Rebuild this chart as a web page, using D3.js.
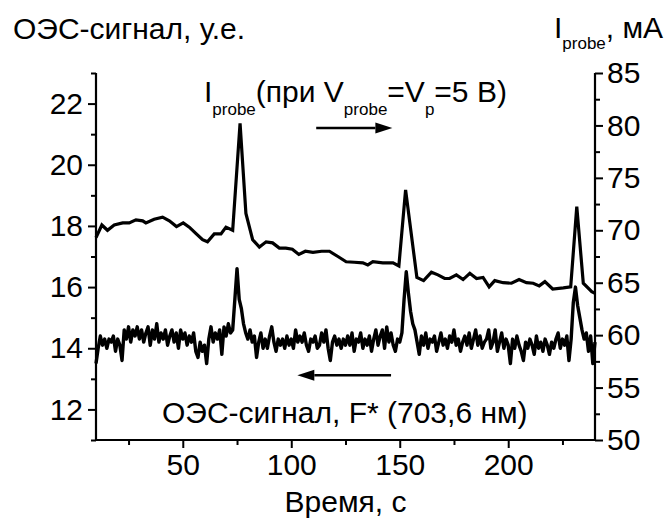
<!DOCTYPE html>
<html>
<head>
<meta charset="utf-8">
<script src="https://cdn.jsdelivr.net/npm/d3@7"></script>
<style>
  html, body { margin: 0; padding: 0; background: #fff; }
  svg { display: block; }
  text { font-family: "Liberation Sans", Arial, sans-serif; fill: #000; }
</style>
</head>
<body>
<div id="chart"></div>
<script>
// ---------- data ----------
// Upper curve: probe current I_probe, mA (right axis)
const probeTime = [10, 12.7, 15.3, 18.4, 22.3, 25.3, 28.4, 31.5, 33, 36.8, 40.7, 43.8, 47.1, 50.2, 53, 56, 59.1, 61.4, 64.5, 67.6, 69.9, 73, 76.4, 79.1, 82.2, 85.3, 88.4, 91.4, 94.5, 97.5, 100.5, 103.5, 106.5, 110, 114, 117.6, 121.5, 125.3, 129, 133, 135.3, 137.6, 142.2, 146.9, 149.6, 152.7, 157.9, 161, 164.6, 167.6, 170.7, 173, 176.1, 179.2, 182.3, 185.4, 188.4, 191.2, 193.8, 197.7, 201.5, 205, 208.4, 211.5, 214.3, 216.9, 220.5, 225.4, 228.8, 231.6, 234.6, 238.5, 240];
const probeCurrent = [69.3, 70.5, 70.0, 70.5, 70.7, 70.7, 71.0, 70.9, 70.7, 71.05, 71.25, 70.9, 70.35, 70.7, 70.3, 69.7, 69.1, 68.9, 69.65, 69.65, 70.3, 70.0, 80.2, 71.6, 69.1, 68.4, 68.9, 68.8, 68.3, 68.3, 68.2, 67.7, 68.0, 67.9, 68.0, 68.0, 67.5, 67.0, 66.95, 66.9, 66.7, 67.0, 66.9, 66.9, 66.6, 73.85, 65.5, 65.2, 66.0, 65.75, 65.4, 65.4, 65.75, 65.3, 65.9, 65.4, 65.5, 64.6, 65.2, 65.0, 64.95, 65.3, 65.0, 64.95, 64.7, 65.1, 64.4, 64.5, 64.6, 72.25, 64.95, 64.15, 64.0];

// Lower curve: OES signal F* (703.6 nm), a.u. (left axis), sampled every 1 s from t = 10 s
const oesStart = 10;
const oesStep = 1;
const oesSignal = [
  13.5,14.0,14.4,14.1,14.3,14.0,14.3,14.2,14.4,13.9,
  14.3,14.1,13.6,14.6,14.3,14.7,14.2,14.6,14.4,14.7,
  14.3,14.6,14.2,14.5,14.7,14.1,14.6,14.3,14.8,14.2,
  14.5,14.3,14.6,14.1,14.4,14.6,14.2,14.5,14.0,14.6,
  14.3,14.5,14.1,14.4,14.2,14.5,13.9,13.7,14.2,13.9,
  14.1,13.5,14.3,14.7,14.2,14.5,14.3,14.6,13.8,14.7,
  14.4,14.8,14.5,14.6,15.6,16.6,15.6,15.3,14.8,14.5,
  14.3,14.6,14.2,14.4,13.7,14.2,14.5,14.0,14.3,14.0,
  14.4,14.7,14.2,13.9,14.3,14.1,14.3,14.0,14.4,14.1,
  14.3,14.0,14.6,14.2,14.4,14.2,14.5,14.1,13.9,14.3,
  14.2,14.4,14.0,14.1,14.5,14.2,14.6,14.0,13.6,14.2,
  14.4,14.1,14.3,14.0,14.3,14.1,14.4,14.1,14.5,13.9,
  14.3,14.2,14.5,14.0,14.3,14.1,14.4,13.9,14.3,14.6,
  14.1,14.4,14.6,14.0,14.7,14.2,14.5,14.1,13.9,14.3,
  14.2,14.5,15.6,16.5,15.8,15.2,14.8,14.6,14.2,13.8,
  14.4,14.1,14.5,14.0,14.3,14.2,14.4,13.9,14.2,14.5,
  14.1,14.3,14.0,14.4,14.2,14.6,14.1,14.3,13.9,14.2,
  14.4,14.1,14.5,14.0,14.3,14.6,14.1,14.4,14.0,14.2,
  14.3,14.6,14.0,14.2,14.6,13.9,14.2,14.5,14.0,14.3,
  14.1,13.5,14.3,14.0,14.4,14.1,13.9,13.6,14.2,14.0,
  14.3,14.1,13.8,14.4,14.0,14.2,13.9,14.3,14.1,13.8,
  14.2,14.0,14.3,14.5,14.0,14.3,14.1,14.4,13.6,14.3,
  15.5,16.0,15.4,15.0,14.6,14.3,14.5,13.9,14.4,13.5,14.2
];

// Axes ticks and labels
const xDomain = [10, 240];
const xMajor = [50, 100, 150, 200];
const xMinor = [25, 75, 125, 175, 225];
const leftDomain = [11, 23];
const leftMajor = [12, 14, 16, 18, 20, 22];
const leftMinor = [11, 13, 15, 17, 19, 21, 23];
const rightDomain = [50, 85];
const rightMajor = [50, 55, 60, 65, 70, 75, 80, 85];
const rightMinor = [52.5, 57.5, 62.5, 67.5, 72.5, 77.5, 82.5];

const xTitle = "Время, с";
const leftTitle = "ОЭС-сигнал, у.е.";
const oesLabel = "ОЭС-сигнал, F* (703,6 нм)";

// ---------- drawing ----------
const W = 665, H = 520;
const L = 96, R = 595, T = 73, B = 440;
const FS = 30, SUB = 17;

const svg = d3.select("#chart").append("svg").attr("width", W).attr("height", H);

const x = d3.scaleLinear().domain(xDomain).range([L, R]);
const yL = d3.scaleLinear().domain(leftDomain).range([B, T]);
const yR = d3.scaleLinear().domain(rightDomain).range([B, T]);

function styleAxis(g, labels) {
  g.select(".domain").remove();
  g.selectAll(".tick line").attr("stroke", "#000").attr("stroke-width", 2);
  g.selectAll(".tick text").attr("font-size", FS).attr("font-family", '"Liberation Sans", Arial, sans-serif').attr("fill", "#000");
  if (!labels) g.selectAll(".tick text").remove();
}

// bottom axis
svg.append("g").attr("transform", `translate(0,${B})`)
  .call(d3.axisBottom(x).tickValues(xMajor).tickSize(8).tickSizeOuter(0).tickPadding(6).tickFormat(d3.format("d")))
  .call(g => styleAxis(g, true));
svg.append("g").attr("transform", `translate(0,${B})`)
  .call(d3.axisBottom(x).tickValues(xMinor).tickSize(5).tickSizeOuter(0))
  .call(g => styleAxis(g, false));

// left axis
svg.append("g").attr("transform", `translate(${L},0)`)
  .call(d3.axisLeft(yL).tickValues(leftMajor).tickSize(8).tickSizeOuter(0).tickPadding(5).tickFormat(d3.format("d")))
  .call(g => styleAxis(g, true));
svg.append("g").attr("transform", `translate(${L},0)`)
  .call(d3.axisLeft(yL).tickValues(leftMinor).tickSize(5).tickSizeOuter(0))
  .call(g => styleAxis(g, false));

// right axis
svg.append("g").attr("transform", `translate(${R},0)`)
  .call(d3.axisRight(yR).tickValues(rightMajor).tickSize(8).tickSizeOuter(0).tickPadding(4).tickFormat(d3.format("d")))
  .call(g => styleAxis(g, true));
svg.append("g").attr("transform", `translate(${R},0)`)
  .call(d3.axisRight(yR).tickValues(rightMinor).tickSize(5).tickSizeOuter(0))
  .call(g => styleAxis(g, false));

// axis lines (bottom, left, right)
const frame = svg.append("g").attr("stroke", "#000").attr("stroke-width", 2.2).attr("fill", "none");
frame.append("line").attr("x1", L - 1).attr("x2", R + 1).attr("y1", B).attr("y2", B);
frame.append("line").attr("x1", L).attr("x2", L).attr("y1", T).attr("y2", B);
frame.append("line").attr("x1", R).attr("x2", R).attr("y1", T).attr("y2", B);

// data lines
const probeData = probeTime.map((t, i) => [t, probeCurrent[i]]);
const oesData = oesSignal.map((v, i) => [oesStart + i * oesStep, v]);

svg.append("path").datum(probeData)
  .attr("fill", "none").attr("stroke", "#000").attr("stroke-width", 3.2).attr("stroke-linejoin", "miter")
  .attr("d", d3.line().x(d => x(d[0])).y(d => yR(d[1])));

svg.append("path").datum(oesData)
  .attr("fill", "none").attr("stroke", "#000").attr("stroke-width", 3.4).attr("stroke-linejoin", "round")
  .attr("d", d3.line().x(d => x(d[0])).y(d => yL(d[1])));

// titles
svg.append("text").attr("x", 13).attr("y", 39).attr("font-size", FS).text(leftTitle);

const rt = svg.append("text").attr("x", 554).attr("y", 38).attr("font-size", FS);
rt.append("tspan").text("I");
rt.append("tspan").attr("font-size", SUB).attr("dy", 11).text("probe");
rt.append("tspan").attr("dy", -11).text(", мА");

svg.append("text").attr("x", (L + R) / 2).attr("y", 512).attr("font-size", FS)
  .attr("text-anchor", "middle").text(xTitle);

// annotation for probe current
const ann = svg.append("text").attr("x", 204).attr("y", 102).attr("font-size", FS);
ann.append("tspan").text("I");
ann.append("tspan").attr("font-size", SUB).attr("dy", 13).text("probe");
ann.append("tspan").attr("dy", -13).text("(при V");
ann.append("tspan").attr("font-size", SUB).attr("dy", 13).text("probe");
ann.append("tspan").attr("dy", -13).text("=V");
ann.append("tspan").attr("font-size", SUB).attr("dy", 13).text("p");
ann.append("tspan").attr("dy", -13).text("=5 В)");

// annotation for OES
svg.append("text").attr("x", 162).attr("y", 423).attr("font-size", FS).text(oesLabel);

// arrows
function arrow(x1, y1, x2, y2) {
  const dir = Math.sign(x2 - x1);
  const hl = 17, hw = 5.5;
  svg.append("line").attr("x1", x1).attr("y1", y1).attr("x2", x2 - dir * hl).attr("y2", y2)
    .attr("stroke", "#000").attr("stroke-width", 2.5);
  svg.append("path")
    .attr("d", `M${x2},${y2} L${x2 - dir * hl},${y2 - hw} L${x2 - dir * hl},${y2 + hw} Z`)
    .attr("fill", "#000");
}
arrow(x(111.5), yR(79.76), x(146.6), yR(79.76));
arrow(x(146), yL(13.12), x(102.8), yL(13.12));
</script>
</body>
</html>
